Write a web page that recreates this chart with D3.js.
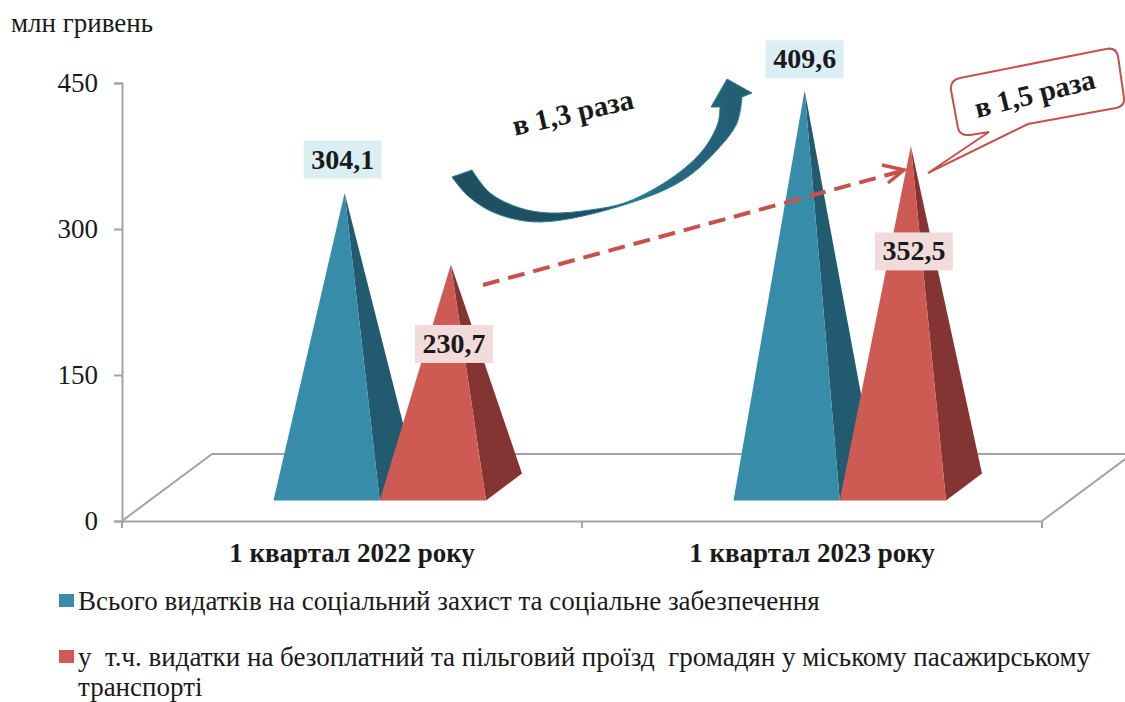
<!DOCTYPE html>
<html>
<head>
<meta charset="utf-8">
<script src="https://cdn.jsdelivr.net/npm/d3@7"></script>
<style>
	html, body { margin: 0; padding: 0; background: #fff; overflow: hidden; }
	svg { display: block; }
	text { font-family: "Liberation Serif", serif; fill: #1a1a1a; }
</style>
</head>
<body>
<div id="chart"></div>
<script>
var categories = ["1 квартал 2022 року", "1 квартал 2023 року"];
var seriesNames = [
	["Всього видатків на соціальний захист та соціальне забезпечення"],
	["у  т.ч. видатки на безоплатний та пільговий проїзд  громадян у міському пасажирському", "транспорті"]
];
var totalValues = [304.1, 409.6];
var transportValues = [230.7, 352.5];
var axisTicks = [0, 150, 300, 450];
var growthLabels = ["в 1,3 раза", "в 1,5 раза"];

var frontColors = ["#378ca9", "#ce5a54"];
var sideColors = ["#225b6f", "#853434"];
var boxColors = ["#daeef3", "#f2dcdb"];

var svg = d3.select("#chart").append("svg")
	.attr("width", 1125)
	.attr("height", 702);

// Axis scale on the front plane, pyramids stand a bit further back
var y = d3.scaleLinear().domain([0, 450]).range([521, 83]);
var yBar = d3.scaleLinear().domain([0, 450]).range([489, 51]);
var baseY = 500.5;
var depthX = 36, depthY = 27;

var x0 = d3.scaleBand().domain(categories).range([122, 1042]);
var x1 = d3.scaleBand().domain([0, 1]).range([151.5, 364]);

var rows = [];
categories.forEach(function(c, i) {
	rows.push({cat: c, s: 0, value: totalValues[i]});
	rows.push({cat: c, s: 1, value: transportValues[i]});
});

// Floor of the 3D plot
var floor = svg.append("g").attr("fill", "none").attr("stroke", "#a3a3a3").attr("stroke-width", 2);
floor.append("path").attr("d", d3.line()([[122, 521], [212, 454], [1125, 454]]));
floor.append("path").attr("d", d3.line()([[1042, 521], [1132, 454]]));

// Axes
var axisY = svg.append("g")
	.attr("transform", "translate(122,0)")
	.call(d3.axisLeft(y).tickValues(axisTicks).tickSize(8).tickPadding(16));
axisY.selectAll("text").attr("font-size", 27).style("font-family", '"Liberation Serif", serif').attr("fill", "#262626");

var axisX = svg.append("g")
	.attr("transform", "translate(0,521)")
	.call(d3.axisBottom(x0).tickSize(0).tickPadding(22));
axisX.selectAll("text")
	.attr("font-size", 27)
	.attr("font-weight", "bold")
	.style("font-family", '"Liberation Serif", serif')
	.attr("fill", "#111");
svg.append("g").selectAll("line")
	.data(x0.domain().map(function(c) { return x0(c); }).concat([x0.range()[1]]))
	.enter().append("line")
	.attr("x1", function(d) { return d; })
	.attr("x2", function(d) { return d; })
	.attr("y1", 521)
	.attr("y2", 528);
svg.selectAll("g").filter(function() { return this.parentNode === svg.node(); })
	.selectAll(".domain, line")
	.attr("stroke", "#a3a3a3")
	.attr("stroke-width", 2);

// Pyramids, the blue one goes first so the red one covers it
var pyramids = svg.append("g").selectAll("g")
	.data(rows)
	.enter().append("g")
	.attr("transform", function(d) { return "translate(" + (x0(d.cat) + x1(d.s)) + ",0)"; });

var w = x1.bandwidth();
pyramids.append("path")
	.attr("fill", function(d) { return sideColors[d.s]; })
	.attr("d", function(d) {
		return d3.line()([[w, baseY], [w + depthX, baseY - depthY], [w / 2 + depthX / 2, yBar(d.value)]]) + "Z";
	});
pyramids.append("path")
	.attr("fill", function(d) { return frontColors[d.s]; })
	.attr("d", function(d) {
		return d3.line()([[0, baseY], [w, baseY], [w / 2 + depthX / 2, yBar(d.value)]]) + "Z";
	});

// Curved growth arrow
var defs = svg.append("defs");
var grad = defs.append("linearGradient").attr("id", "arrowFill");
grad.selectAll("stop")
	.data([[0, "#1f5062"], [0.5, "#1f5062"], [0.6, "#2a7a96"], [0.72, "#256a82"], [1, "#225b6f"]])
	.enter().append("stop")
	.attr("offset", function(d) { return d[0]; })
	.attr("stop-color", function(d) { return d[1]; });

var edge = d3.line().curve(d3.curveCatmullRom.alpha(0.5));
var upperEdge = [[472, 170], [490, 193], [520, 208], [550, 213], [590, 210], [627, 202], [673, 177], [703, 150], [718, 123], [720, 107]];
var lowerEdge = [[742, 97], [737, 123], [717, 150], [683, 180], [627, 204], [540, 222], [495, 213], [468, 196], [452, 177]];
svg.append("path")
	.attr("fill", "url(#arrowFill)")
	.attr("stroke", "#2d7f9b")
	.attr("stroke-width", 1)
	.attr("d", edge(upperEdge) + "L711,107 L727,79 L752,93 L" + edge(lowerEdge).slice(1) + "Z");

// Dashed growth arrow
var arrowStroke = "#c9504c";
svg.append("line")
	.attr("x1", 483).attr("y1", 285)
	.attr("x2", 900).attr("y2", 171.5)
	.attr("stroke", arrowStroke)
	.attr("stroke-width", 4)
	.attr("stroke-dasharray", "17 9");
svg.append("path")
	.attr("fill", "none")
	.attr("stroke", arrowStroke)
	.attr("stroke-width", 3.5)
	.attr("d", d3.line()([[882, 165], [904, 170], [888, 183]]));

// Callout
svg.append("path")
	.attr("fill", "#fff")
	.attr("stroke", "#c9504c")
	.attr("stroke-width", 2)
	.attr("d", "M960,78 L1106,49 Q1116,47 1118,56 L1124,98 Q1125,106 1116,108 L1028,124 L928,173 "
		+ "L989,132 L970,135 Q960,136 958,128 L951,90 Q950,80 960,78 Z");

// Data labels, boxes sit above the blue tops and inside the red pyramids
var labelDx = [-2, 3, 0, 3];
var labelDy = [-33.5, 79.5, -31, 105.5];
var labels = svg.append("g").selectAll("g")
	.data(rows)
	.enter().append("g")
	.attr("transform", function(d, i) {
		var cx = x0(d.cat) + x1(d.s) + w / 2 + depthX / 2 + labelDx[i];
		return "translate(" + cx + "," + (yBar(d.value) + labelDy[i]) + ")";
	});
labels.append("rect")
	.attr("x", -39).attr("y", -19)
	.attr("width", 78).attr("height", 38)
	.attr("fill", function(d) { return boxColors[d.s]; });
labels.append("text")
	.attr("text-anchor", "middle")
	.attr("y", 9)
	.attr("font-size", 28)
	.attr("font-weight", "bold")
	.attr("fill", "#000")
	.text(function(d) { return d3.format(".1f")(d.value).replace(".", ","); });

// Growth labels
svg.selectAll(".growth")
	.data(growthLabels)
	.enter().append("text")
	.attr("class", "growth")
	.attr("text-anchor", "middle")
	.attr("font-size", 29)
	.attr("font-weight", "bold")
	.attr("fill", "#111")
	.attr("transform", function(d, i) {
		return i === 0 ? "translate(575,122) rotate(-13)" : "translate(1037,103) rotate(-14)";
	})
	.text(function(d) { return d; });

// Unit
svg.append("text")
	.attr("x", 11).attr("y", 32)
	.attr("font-size", 27)
	.text("млн гривень");

// Legend
var legend = svg.append("g").selectAll("g")
	.data(seriesNames)
	.enter().append("g")
	.attr("transform", function(d, i) { return "translate(59," + (i === 0 ? 610 : 666) + ")"; });
legend.append("rect")
	.attr("y", -16)
	.attr("width", 15).attr("height", 13)
	.attr("fill", function(d, i) { return frontColors[i]; });
legend.selectAll("text")
	.data(function(d) { return d; })
	.enter().append("text")
	.attr("x", 19)
	.attr("y", function(d, i) { return i * 30; })
	.attr("font-size", 27)
	.attr("xml:space", "preserve")
	.attr("fill", "#222")
	.text(function(d) { return d; });
</script>
</body>
</html>
